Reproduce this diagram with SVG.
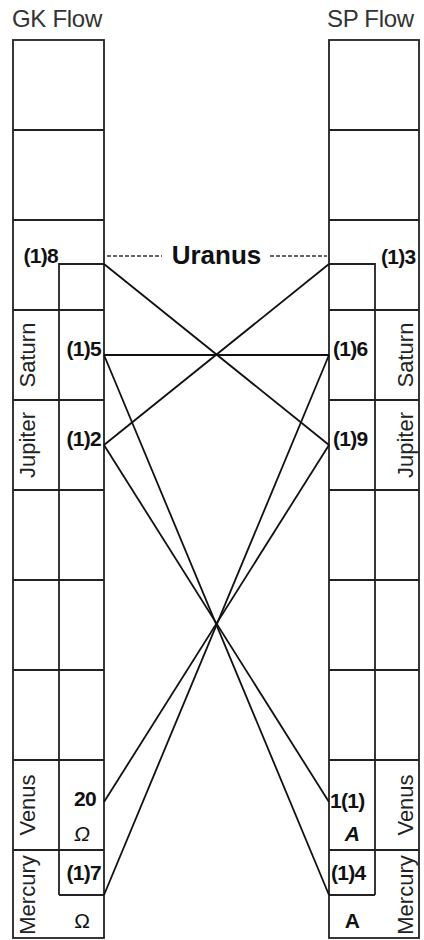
<svg xmlns="http://www.w3.org/2000/svg" width="424" height="940" viewBox="0 0 424 940">
<style>
.box{fill:none;stroke:#222;stroke-width:1.8}
.ln{stroke:#222;stroke-width:1.8;fill:none}
.cn{stroke:#111;stroke-width:1.8;fill:none}
.title{font-family:"Liberation Sans",Arial,sans-serif;font-size:24px;fill:#333;letter-spacing:-0.3px}
.lbl{font-family:"Liberation Sans",Arial,sans-serif;font-size:21px;font-weight:bold;fill:#111;letter-spacing:-0.7px}
.rot{font-family:"Liberation Sans",Arial,sans-serif;font-size:22px;fill:#222}
.sym{font-family:"Liberation Sans",Arial,sans-serif;font-size:21px;fill:#111}
.dash{stroke:#333;stroke-width:1.6;stroke-dasharray:4 2;fill:none}
</style>
<rect width="424" height="940" fill="#fff"/>
<g id="gk-flow">
<text class="title" x="12" y="27">GK Flow</text>
<rect class="box" x="13" y="40" width="91" height="898"/>
<path class="ln" d="M13 130H104M13 220H104M13 310H104M13 400H104M13 490H104M13 580H104M13 670H104M13 760H104M13 850H104"/>
<path class="ln" d="M59 895V264H104M59 895H104"/>
<text class="rot" transform="translate(35,355) rotate(-90)" text-anchor="middle">Saturn</text>
<text class="rot" transform="translate(35,445) rotate(-90)" text-anchor="middle">Jupiter</text>
<text class="rot" transform="translate(35,805) rotate(-90)" text-anchor="middle">Venus</text>
<text class="rot" transform="translate(35,895) rotate(-90)" text-anchor="middle">Mercury</text>
<text class="lbl" x="58" y="263" text-anchor="end">(1)8</text>
<text class="lbl" x="101" y="356" text-anchor="end">(1)5</text>
<text class="lbl" x="101" y="446" text-anchor="end">(1)2</text>
<text class="lbl" x="96" y="806" text-anchor="end">20</text>
<text class="sym" x="82" y="841" text-anchor="middle" font-style="italic">Ω</text>
<text class="lbl" x="101" y="880" text-anchor="end">(1)7</text>
<text class="sym" x="82" y="928" text-anchor="middle">Ω</text>
</g>
<g id="sp-flow">
<text class="title" x="327" y="27">SP Flow</text>
<rect class="box" x="329" y="40" width="90" height="898"/>
<path class="ln" d="M329 130H419M329 220H419M329 310H419M329 400H419M329 490H419M329 580H419M329 670H419M329 760H419M329 850H419"/>
<path class="ln" d="M375 895V264H329M375 895H329"/>
<text class="rot" transform="translate(413,355) rotate(-90)" text-anchor="middle">Saturn</text>
<text class="rot" transform="translate(413,445) rotate(-90)" text-anchor="middle">Jupiter</text>
<text class="rot" transform="translate(413,805) rotate(-90)" text-anchor="middle">Venus</text>
<text class="rot" transform="translate(413,895) rotate(-90)" text-anchor="middle">Mercury</text>
<text class="lbl" x="381" y="264">(1)3</text>
<text class="lbl" x="333" y="356">(1)6</text>
<text class="lbl" x="333" y="446">(1)9</text>
<text class="lbl" x="330" y="808">1(1)</text>
<text class="lbl" x="352" y="841" text-anchor="middle" font-style="italic">A</text>
<text class="lbl" x="331" y="880">(1)4</text>
<text class="lbl" x="352" y="928" text-anchor="middle">A</text>
</g>
<g id="uranus">
<path class="dash" d="M107 256H162M270 256H327"/>
<text x="216.5" y="264" text-anchor="middle" font-family="'Liberation Sans',Arial,sans-serif" font-size="26" font-weight="bold" fill="#111">Uranus</text>
</g>
<g id="connectors">
<path class="cn" d="M104 264L329 445"/>
<path class="cn" d="M329 264L104 445"/>
<path class="cn" d="M104 355H329"/>
<path class="cn" d="M104 355L329 895"/>
<path class="cn" d="M104 445L329 802"/>
<path class="cn" d="M329 355L104 895"/>
<path class="cn" d="M329 445L104 802"/>
</g>
</svg>
